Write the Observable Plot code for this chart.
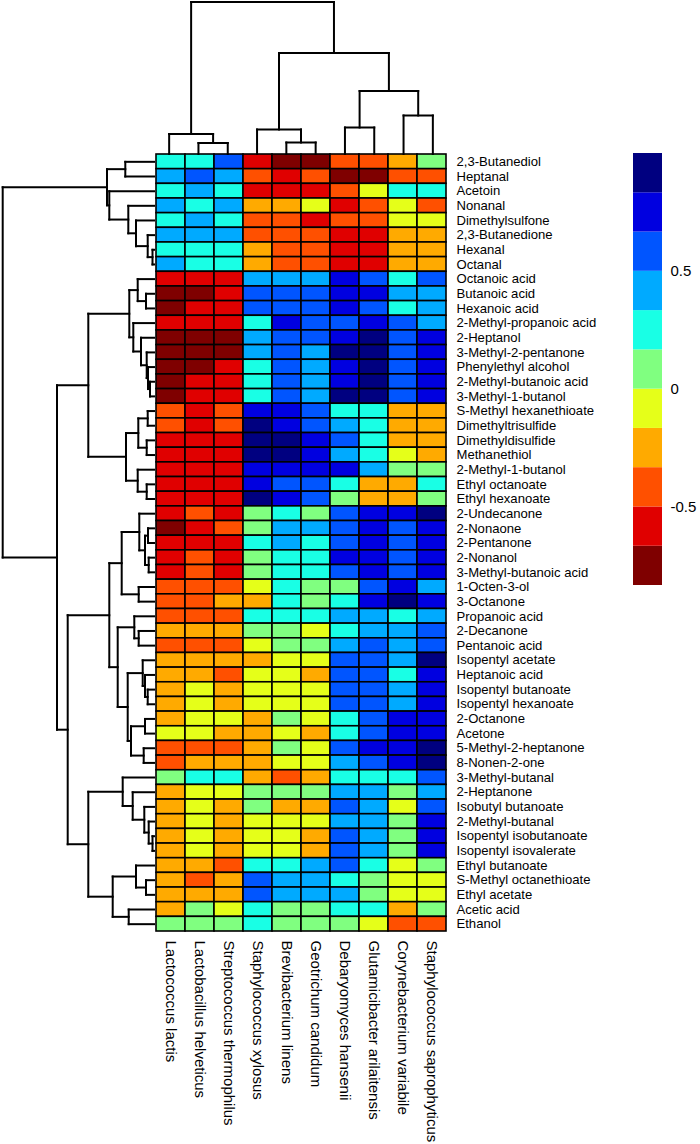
<!DOCTYPE html>
<html><head><meta charset="utf-8">
<script src="https://cdn.jsdelivr.net/npm/d3@7"></script>
<script src="https://cdn.jsdelivr.net/npm/@observablehq/plot@0.6"></script>
<style>
html,body{margin:0;padding:0;background:#fff;}
#chart{position:relative;width:700px;height:1144px;overflow:hidden;background:#fff;}
#chart svg{position:absolute;left:0;top:0;}
</style></head><body><div id="chart"></div>
<script>
// ---- categories ----
const species = ["Lactococcus lactis","Lactobacillus helveticus","Streptococcus thermophilus","Staphylococcus xylosus","Brevibacterium linens","Geotrichum candidum","Debaryomyces hansenii","Glutamicibacter arilaitensis","Corynebacterium variabile","Staphylococcus saprophyticus"];
const compounds = ["2,3-Butanediol","Heptanal","Acetoin","Nonanal","Dimethylsulfone","2,3-Butanedione","Hexanal","Octanal","Octanoic acid","Butanoic acid","Hexanoic acid","2-Methyl-propanoic acid","2-Heptanol","3-Methyl-2-pentanone","Phenylethyl alcohol","2-Methyl-butanoic acid","3-Methyl-1-butanol","S-Methyl hexanethioate","Dimethyltrisulfide","Dimethyldisulfide","Methanethiol","2-Methyl-1-butanol","Ethyl octanoate","Ethyl hexanoate","2-Undecanone","2-Nonaone","2-Pentanone","2-Nonanol","3-Methyl-butanoic acid","1-Octen-3-ol","3-Octanone","Propanoic acid","2-Decanone","Pentanoic acid","Isopentyl acetate","Heptanoic acid","Isopentyl butanoate","Isopentyl hexanoate","2-Octanone","Acetone","5-Methyl-2-heptanone","8-Nonen-2-one","3-Methyl-butanal","2-Heptanone","Isobutyl butanoate","2-Methyl-butanal","Isopentyl isobutanoate","Isopentyl isovalerate","Ethyl butanoate","S-Methyl octanethioate","Ethyl acetate","Acetic acid","Ethanol"];

// ---- series values (one array per species, rows in compound order) ----
const lactococcusLactis = [.25,.42,.25,.42,.25,.42,.25,.42,-.58,-.75,-.75,-.58,-.75,-.75,-.75,-.75,-.75,-.42,-.42,-.58,-.58,-.58,-.58,-.58,-.58,-.75,-.58,-.58,-.58,-.42,-.42,-.42,-.25,-.42,-.25,-.25,-.25,-.25,-.25,-.08,-.42,-.42,.08,-.25,-.25,-.25,-.25,-.25,-.25,-.25,-.25,-.25,.08];
const lactobacillusHelveticus = [.25,.58,.42,.25,.42,.42,.25,.25,-.58,-.75,-.58,-.58,-.75,-.75,-.75,-.58,-.58,-.58,-.58,-.58,-.58,-.58,-.58,-.58,-.42,-.58,-.58,-.42,-.42,-.42,-.42,-.42,-.25,-.42,-.25,-.25,-.08,-.08,-.08,-.08,-.42,-.25,.25,-.08,-.08,-.08,-.08,-.08,-.25,-.42,-.25,.08,.08];
const streptococcusThermophilus = [.58,.42,.25,.42,.25,.42,.25,.25,-.58,-.58,-.58,-.58,-.75,-.75,-.58,-.58,-.58,-.42,-.42,-.58,-.58,-.58,-.58,-.58,-.58,-.42,-.58,-.58,-.58,-.42,-.25,-.42,-.25,-.42,-.25,-.42,-.25,-.25,-.08,-.25,-.42,-.25,.25,-.08,-.25,-.25,-.25,-.25,-.42,-.25,-.25,-.08,.08];
const staphylococcusXylosus = [-.58,-.42,-.58,-.25,-.42,-.42,-.25,-.25,.42,.58,.58,.25,.42,.42,.25,.25,.25,.75,.92,.92,.92,.75,.75,.92,.08,.08,.25,.08,.08,-.08,-.25,.25,.08,-.08,-.25,-.08,-.08,-.08,-.25,-.25,-.25,-.25,-.25,.08,.08,-.08,-.08,-.08,.25,.58,.58,.25,.25];
const brevibacteriumLinens = [-.75,-.58,-.58,-.25,-.42,-.42,-.42,-.42,.42,.58,.58,.75,.58,.58,.58,.58,.58,.75,.75,.92,.92,.75,.58,.75,.25,.42,.42,.25,.25,.25,.25,.25,.08,.08,-.08,-.08,-.08,-.08,.08,-.08,.08,-.08,-.42,.08,-.25,-.08,-.08,-.08,.25,.42,.42,.08,.08];
const geotrichumCandidum = [-.75,-.42,-.58,-.08,-.58,-.42,-.42,-.42,.42,.58,.58,.58,.58,.42,.42,.42,.42,.58,.58,.75,.75,.75,.58,.58,.08,.42,.25,.25,.25,.08,.08,.25,-.08,.08,-.08,-.25,-.08,-.08,-.08,-.25,-.08,-.08,-.25,.08,-.25,-.08,-.25,-.25,.42,.42,.42,.08,.08];
const debaryomycesHansenii = [-.42,-.75,-.42,-.58,-.42,-.58,-.58,-.58,.75,.75,.75,.58,.75,.92,.75,.75,.92,.25,.42,.58,.42,.75,.25,.08,.58,.58,.58,.75,.58,.08,.25,.42,.25,.42,.58,.58,.58,.58,.25,.25,.58,.42,.25,.42,.58,.42,.58,.58,.58,.25,.42,.25,.08];
const glutamicibacterArilaitensis = [-.42,-.75,-.08,-.42,-.42,-.58,-.58,-.58,.58,.75,.58,.75,.92,.92,.92,.92,.92,.25,.25,.25,.25,.42,-.25,-.25,.75,.75,.75,.75,.75,.58,.75,.42,.42,.58,.58,.58,.58,.58,.58,.58,.75,.58,.25,.42,.42,.42,.42,.42,.25,.08,.08,.25,-.08];
const corynebacteriumVariabile = [-.25,-.42,.25,-.08,-.08,-.25,-.25,-.25,.25,.42,.25,.58,.58,.58,.58,.58,.58,-.25,-.25,-.25,-.08,.08,-.25,-.25,.75,.58,.58,.58,.58,.75,.92,.25,.42,.42,.42,.25,.42,.42,.75,.75,.75,.75,.25,.08,-.08,.08,.08,.08,-.08,-.08,-.08,-.25,-.42];
const staphylococcusSaprophyticus = [.08,-.42,.25,-.42,-.08,-.25,-.25,-.25,.58,.42,.42,.42,.75,.75,.75,.75,.75,-.25,-.25,-.25,-.25,.08,.25,.08,.92,.75,.75,.75,.75,.42,.75,.42,.58,.58,.92,.75,.75,.75,.75,.75,.92,.92,.58,.42,.58,.75,.75,.75,.08,-.08,-.08,.08,-.42];
const seriesBySpecies = [lactococcusLactis,lactobacillusHelveticus,streptococcusThermophilus,staphylococcusXylosus,brevibacteriumLinens,geotrichumCandidum,debaryomycesHansenii,glutamicibacterArilaitensis,corynebacteriumVariabile,staphylococcusSaprophyticus];

// ---- colour key: bin edges, tick labels, palette ----
const legendEdges = [-0.8333,-0.6667,-0.5,-0.3333,-0.1667,0,0.1667,0.3333,0.5,0.6667,0.8333,1.0];
const legendTicks = [-0.5,0,0.5];
const palette = ["#7f0000","#e00000","#ff5000","#ffaa00","#e5ff19","#80ff80","#19ffe5","#00aaff","#0055ff","#0000e0","#000080"];

// ---- dendrograms: [left, right, mergeHeight]; leaves = 1-based order index ----
const columnTree = [[1,[2,3,11],20],[[4,[5,6,11.5],24.5],[[7,8,26.5],[9,10,38.5],63],101],152];
const rowTreeTop = [[1,2,28.7],[3,[4,[5,[6,[7,8,1.5],6.3],18],25.7],44.7],47];
const rowTreeP = [[9,[10,11,8],16.3],[12,[13,[14,[15,[16,17,4],6],7.3],13],20.7],24.7];
const rowTreeQ = [[[18,19,6.3],[20,21,7.3],15.7],[22,[23,24,7.3],16.3],28];
const rowTreeK1 = [[25,[[26,27,6],[28,29,5.3],9],14.7],[30,31,15.3],32.3];
const rowTreeK2 = [[32,[33,34,15.3],19.7],[[35,[36,[37,38,6.3],9],11.3],[[39,40,9],[41,42,10.3],23],26.3],36.3];
const rowTreeL1 = [43,[44,[45,[46,[47,48,1.5],5.3],9.7],21.3],31.3];
const rowTreeL2 = [[49,[50,51,8],18],[52,53,25.3],41.3];
const rowTree = [rowTreeTop,[[rowTreeP,rowTreeQ,65.7],[[rowTreeK1,rowTreeK2,44.7],[rowTreeL1,rowTreeL2,65.7],86.3],97],151.3];

(function(){
// ---- build tables ----
const cells = [];
compounds.forEach((c,i)=>species.forEach((s,j)=>cells.push({compound:c,species:s,value:seriesBySpecies[j][i]})));

function dendroSegments(tree){
  const segs=[];
  function walk(node){
    if(typeof node==="number") return {pos:node-0.5,h:0};
    const [a,b,h]=node;
    const A=walk(a),B=walk(b);
    segs.push({p1:A.pos,h1:A.h,p2:A.pos,h2:h});
    segs.push({p1:B.pos,h1:B.h,p2:B.pos,h2:h});
    segs.push({p1:A.pos,h1:h,p2:B.pos,h2:h});
    return {pos:(A.pos+B.pos)/2,h};
  }
  walk(tree);
  return segs;
}
const colSegs = dendroSegments(columnTree);
const rowSegs = dendroSegments(rowTree);
const legendBins = legendEdges.slice(0,-1).map((lo,i)=>({lo,hi:legendEdges[i+1],mid:(lo+legendEdges[i+1])/2}));

const colorSpec = {type:"threshold",domain:legendEdges.slice(1,-1),range:palette};
const font = "'Liberation Sans', Arial, Helvetica, sans-serif";
const container = document.getElementById("chart");

// heatmap with axes
const heatPlot = Plot.plot({
  width:700,height:1144,marginLeft:154,marginRight:253,marginTop:154,marginBottom:213,
  style:{fontFamily:font,fontSize:"15px",background:"transparent",color:"black",overflow:"visible"},
  x:{domain:species,padding:0,label:null,axis:null},
  y:{domain:compounds,padding:0,label:null,axis:null},
  color:colorSpec,
  marks:[
    Plot.cell(cells,{x:"species",y:"compound",fill:"value",stroke:"black",strokeWidth:1.6,inset:0}),
    Plot.axisY({anchor:"right",tickSize:0,tickPadding:9,label:null,fill:"black",fontSize:13.1,
      style:"letter-spacing:0.75px"}),
    Plot.axisX({anchor:"bottom",tickSize:0,tickPadding:9,tickRotate:90,label:null,fill:"black"})
  ]
});
container.appendChild(heatPlot);

// column dendrogram
const colDendro = Plot.plot({
  width:700,height:160,margin:0,
  style:{background:"transparent",overflow:"visible"},
  x:{domain:[0,species.length],range:[154,447],axis:null},
  y:{domain:[0,152],range:[153.5,1.5],axis:null},
  marks:[Plot.link(colSegs,{x1:"p1",y1:"h1",x2:"p2",y2:"h2",stroke:"black",strokeWidth:2,strokeLinecap:"square"})]
});
container.appendChild(colDendro);

// row dendrogram
const rowDendro = Plot.plot({
  width:160,height:1144,margin:0,
  style:{background:"transparent",overflow:"visible"},
  x:{domain:[0,151.3],range:[153.5,2.2],axis:null},
  y:{domain:[0,compounds.length],range:[154,931],axis:null},
  marks:[Plot.link(rowSegs,{x1:"h1",y1:"p1",x2:"h2",y2:"p2",stroke:"black",strokeWidth:2,strokeLinecap:"square"})]
});
container.appendChild(rowDendro);

// colour key
const keyPlot = Plot.plot({
  width:700,height:1144,marginLeft:633,marginRight:38,marginTop:153,marginBottom:559,
  style:{fontFamily:font,fontSize:"15px",background:"transparent",color:"black",overflow:"visible"},
  x:{domain:[0,1],axis:null},
  y:{domain:[legendEdges[0],legendEdges[legendEdges.length-1]],axis:null},
  color:colorSpec,
  marks:[
    Plot.rect(legendBins,{x1:0,x2:1,y1:"lo",y2:"hi",fill:"mid"}),
    Plot.axisY({anchor:"right",ticks:legendTicks,tickSize:0,tickPadding:8,tickFormat:d=>String(d),label:null,fill:"black"})
  ]
});
container.appendChild(keyPlot);
})();
</script></body></html>
